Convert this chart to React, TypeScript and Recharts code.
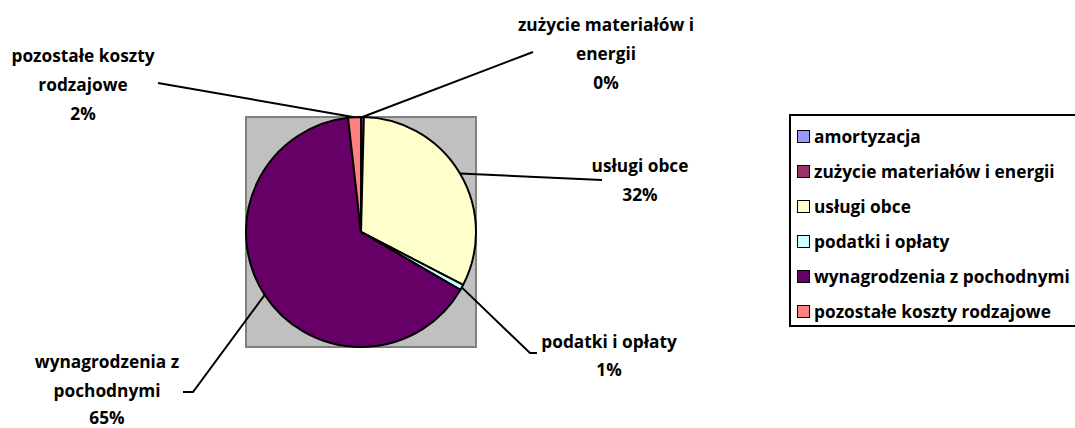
import { Pie, PieChart, Cell } from "recharts";

// categories, values (percent of total costs) and Excel palette colours
const categories = [
    "amortyzacja",
    "zużycie materiałów i energii",
    "usługi obce",
    "podatki i opłaty",
    "wynagrodzenia z pochodnymi",
    "pozostałe koszty rodzajowe",
];
const values = [0, 0.4, 32.2, 0.8, 64.8, 1.8];
const colors = ["#9999FF", "#993366", "#FFFFCC", "#CCFFFF", "#660066", "#FF8080"];

// how each data label is broken into lines
const labelLines: Record<string, string[]> = {
    "zużycie materiałów i energii": ["zużycie materiałów i", "energii"],
    "usługi obce": ["usługi obce"],
    "podatki i opłaty": ["podatki i opłaty"],
    "wynagrodzenia z pochodnymi": ["wynagrodzenia z", "pochodnymi"],
    "pozostałe koszty rodzajowe": ["pozostałe koszty", "rodzajowe"],
};

// label placement: leader line path end + text block
const labelPos: Record<string, { pts: [number, number][]; x: number; ys: number[] }> = {
    "zużycie materiałów i energii": { pts: [[533, 52]], x: 606, ys: [24, 53, 82] },
    "usługi obce": { pts: [[602, 180]], x: 640, ys: [165, 194] },
    "podatki i opłaty": { pts: [[530, 353], [537, 353]], x: 609, ys: [341, 369] },
    "wynagrodzenia z pochodnymi": { pts: [[193, 392], [183, 392]], x: 107, ys: [361, 390, 417] },
    "pozostałe koszty rodzajowe": { pts: [[158, 83]], x: 83, ys: [55, 84, 113] },
};

const FONT = "'Open Sans', 'Noto Sans', sans-serif";
const FS = 17.3;
const RAD = Math.PI / 180;

const data = categories
    .map((name, i) => ({ name, value: values[i], color: colors[i] }))
    .filter((d) => d.value > 0);

function renderLabel(props: any) {
    const { cx, cy, midAngle, outerRadius, percent, name } = props;
    const pos = labelPos[name];
    if (!pos) return null;
    const sx = cx + outerRadius * Math.cos(-midAngle * RAD);
    const sy = cy + outerRadius * Math.sin(-midAngle * RAD);
    const path = [[sx, sy], ...pos.pts].map((p, i) => `${i ? "L" : "M"}${p[0]},${p[1]}`).join(" ");
    const lines = [...labelLines[name], `${Math.round(percent * 100)}%`];
    return (
        <g>
            <path d={path} stroke="#000" strokeWidth={2} fill="none" />
            {lines.map((t, i) => (
                <text
                    key={i}
                    x={pos.x}
                    y={pos.ys[i]}
                    textAnchor="middle"
                    dominantBaseline="central"
                    fontFamily={FONT}
                    fontWeight={700}
                    fontSize={FS}
                    fill="#000"
                >
                    {t}
                </text>
            ))}
        </g>
    );
}

export default function App() {
    return (
        <div
            style={{
                position: "absolute",
                left: 0,
                top: 0,
                width: 1075,
                height: 428,
                overflow: "hidden",
                background: "#fff",
            }}
        >
            {/* grey plot area */}
            <div
                style={{
                    position: "absolute",
                    left: 245,
                    top: 116,
                    width: 232,
                    height: 232,
                    background: "#C0C0C0",
                    border: "2px solid #808080",
                    boxSizing: "border-box",
                }}
            />
            <div style={{ position: "absolute", left: 0, top: 0 }}>
                <PieChart width={1075} height={428} margin={{ top: 0, right: 0, bottom: 0, left: 0 }}>
                    <Pie
                        data={data}
                        dataKey="value"
                        nameKey="name"
                        cx={361}
                        cy={232}
                        outerRadius={115}
                        startAngle={90}
                        endAngle={-270}
                        stroke="#000"
                        strokeWidth={2}
                        label={renderLabel}
                        labelLine={false}
                        isAnimationActive={false}
                    >
                        {data.map((d) => (
                            <Cell key={d.name} fill={d.color} />
                        ))}
                    </Pie>
                </PieChart>
            </div>
            {/* legend */}
            <div
                style={{
                    position: "absolute",
                    left: 789,
                    top: 114,
                    width: 320,
                    height: 213,
                    border: "2px solid #000",
                    boxSizing: "border-box",
                    fontFamily: FONT,
                    fontWeight: 700,
                    fontSize: FS,
                    paddingTop: 3,
                }}
            >
                {categories.map((c, i) => (
                    <div
                        key={c}
                        style={{ display: "flex", alignItems: "center", height: 35, whiteSpace: "nowrap" }}
                    >
                        <span
                            style={{
                                display: "inline-block",
                                width: 11,
                                height: 11,
                                marginLeft: 6,
                                marginRight: 4,
                                background: colors[i],
                                border: "1.5px solid #000",
                            }}
                        />
                        {c}
                    </div>
                ))}
            </div>
        </div>
    );
}
